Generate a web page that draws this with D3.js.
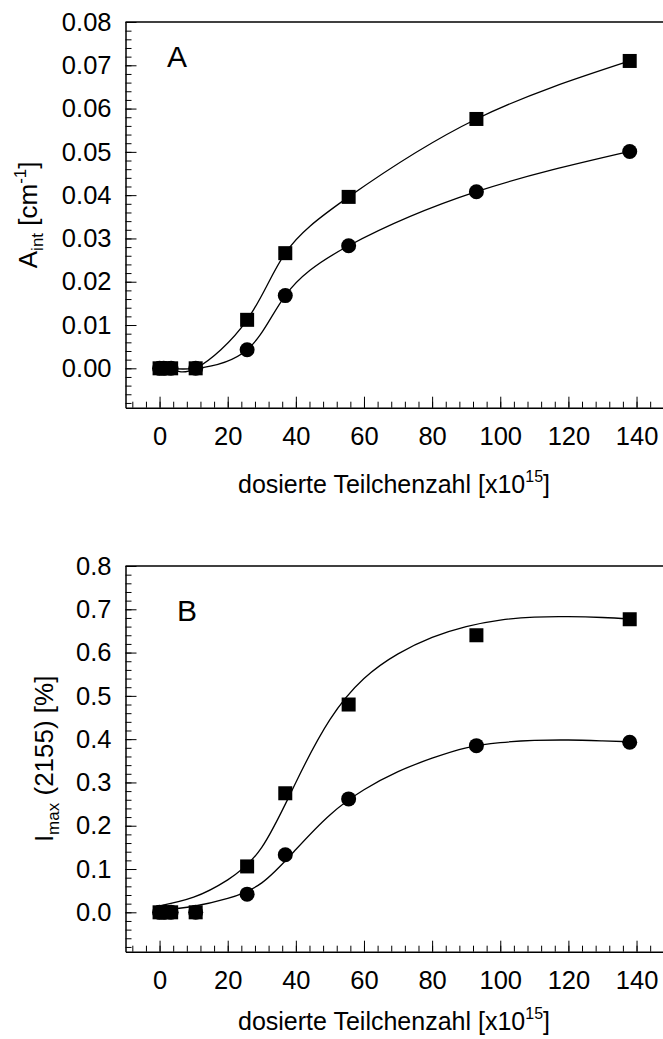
<!DOCTYPE html>
<html>
<head>
<meta charset="utf-8">
<script src="https://cdn.jsdelivr.net/npm/d3@7"></script>
<style>
  body { margin: 0; background: #fff; }
  svg { display: block; font-family: "Liberation Sans", Arial, sans-serif; }
</style>
</head>
<body>
<svg id="chart" width="663" height="1039"></svg>
<script>
// dose values (x) shared by both panels
const dose = [0, 1.2, 3.4, 10.6, 25.7, 36.9, 55.5, 93, 138];

// panel A: integrated absorbance
const aSquares = [0, 0, 0, 0, 0.0112, 0.0266, 0.0396, 0.0576, 0.0710];
const aCircles = [0, 0, 0, 0, 0.0043, 0.0168, 0.0283, 0.0408, 0.0501];

// panel B: maximum intensity
const bSquares = [0, 0, 0, 0, 0.106, 0.275, 0.480, 0.640, 0.677];
const bCircles = [0, 0, 0, 0, 0.042, 0.133, 0.262, 0.385, 0.393];

// panel B fitted curves
const fitX = [0, 10, 20, 30, 40, 50, 60, 70, 80, 90, 100, 110, 120, 130, 138];
const fitSquaresB = [0.015, 0.035, 0.075, 0.150, 0.300, 0.445, 0.540, 0.597, 0.635, 0.660, 0.675, 0.682, 0.683, 0.681, 0.678];
const fitCirclesB = [0.005, 0.014, 0.032, 0.068, 0.145, 0.225, 0.283, 0.325, 0.356, 0.380, 0.392, 0.397, 0.398, 0.396, 0.394];

const xTicks = [0, 20, 40, 60, 80, 100, 120, 140];
const yTicksA = [0, 0.01, 0.02, 0.03, 0.04, 0.05, 0.06, 0.07, 0.08];
const yTicksB = [0, 0.1, 0.2, 0.3, 0.4, 0.5, 0.6, 0.7, 0.8];

const svg = d3.select("#chart");
const left = 125.5, right = 670.6;

const x = d3.scaleLinear().domain([-10, 150]).range([left, right]);

function panel(opts) {
    const { top, bottom, yDomain, yTicks, yMinor, fmt, squares, circles, fits,
            letter, letterPos, yLabel, yLabelX, xTitleY } = opts;
    const y = d3.scaleLinear().domain(yDomain).range([bottom, top]);
    const g = svg.append("g");

    // top frame line
    g.append("line")
        .attr("x1", left).attr("x2", 663)
        .attr("y1", top).attr("y2", top)
        .attr("stroke", "#000").attr("stroke-width", 1.6);

    // minor ticks
    g.append("g")
        .attr("transform", `translate(${left},0)`)
        .call(d3.axisLeft(y).tickValues(yMinor).tickSize(-6).tickSizeOuter(0).tickFormat(""))
        .call(a => a.select(".domain").remove());
    g.append("g")
        .attr("transform", `translate(0,${bottom})`)
        .call(d3.axisBottom(x).tickValues(d3.range(-8, 150, 4)).tickSize(-6).tickSizeOuter(0).tickFormat(""))
        .call(a => a.select(".domain").remove());

    // y axis
    g.append("g")
        .attr("transform", `translate(${left},0)`)
        .call(d3.axisLeft(y).tickValues(yTicks).tickSize(-11).tickSizeOuter(0).tickPadding(14).tickFormat(fmt))
        .call(a => a.select(".domain").attr("stroke-width", 1.5))
        .call(a => a.selectAll("text").attr("font-size", 25.5).attr("fill", "#000"));

    // x axis
    g.append("g")
        .attr("transform", `translate(0,${bottom})`)
        .call(d3.axisBottom(x).tickValues(xTicks).tickSize(-11).tickSizeOuter(0).tickPadding(19).tickFormat(d3.format("d")))
        .call(a => a.select(".domain").attr("stroke-width", 1.5))
        .call(a => a.selectAll("text").attr("font-size", 25.5).attr("fill", "#000"));

    // curves
    fits.forEach(f => {
        g.append("path")
            .datum(f.xs.map((d, i) => [d, f.ys[i]]))
            .attr("fill", "none")
            .attr("stroke", "#000")
            .attr("stroke-width", 1.3)
            .attr("d", d3.line().x(d => x(d[0])).y(d => y(d[1])).curve(d3.curveNatural));
    });

    // markers
    g.append("g").selectAll("circle")
        .data(dose.map((d, i) => [d, circles[i]]))
        .join("circle")
        .attr("cx", d => x(d[0])).attr("cy", d => y(d[1]))
        .attr("r", 7.5).attr("fill", "#000");
    g.append("g").selectAll("rect")
        .data(dose.map((d, i) => [d, squares[i]]))
        .join("rect")
        .attr("x", d => x(d[0]) - 7).attr("y", d => y(d[1]) - 7)
        .attr("width", 14).attr("height", 14).attr("fill", "#000");

    // panel letter
    g.append("text")
        .attr("x", letterPos[0]).attr("y", letterPos[1])
        .attr("text-anchor", "middle")
        .attr("font-size", 30)
        .text(letter);

    // y label
    const yl = g.append("text")
        .attr("transform", `translate(${yLabelX},${(top + bottom) / 2}) rotate(-90)`)
        .attr("text-anchor", "middle")
        .attr("font-size", 26);
    yLabel(yl);

    // x label
    const xl = g.append("text")
        .attr("x", 394).attr("y", bottom + xTitleY)
        .attr("text-anchor", "middle")
        .attr("font-size", 25);
    xl.append("tspan").text("dosierte Teilchenzahl [x10");
    xl.append("tspan").attr("font-size", 16).attr("dy", -11).text("15");
    xl.append("tspan").attr("dy", 11).text("]");
}

panel({
    top: 22, bottom: 407.7,
    yDomain: [-0.0091, 0.08],
    yTicks: yTicksA,
    yMinor: d3.range(-0.008, 0.0801, 0.002),
    fmt: d3.format(".2f"),
    squares: aSquares, circles: aCircles,
    fits: [{ xs: dose, ys: aSquares }, { xs: dose, ys: aCircles }],
    letter: "A", letterPos: [177, 67],
    yLabelX: 37, xTitleY: 85,
    yLabel: t => {
        t.append("tspan").text("A");
        t.append("tspan").attr("font-size", 17).attr("dy", 6).text("int");
        t.append("tspan").attr("dy", -6).text(" [cm");
        t.append("tspan").attr("font-size", 17).attr("dy", -11).text("-1");
        t.append("tspan").attr("dy", 11).text("]");
    }
});

panel({
    top: 566, bottom: 951.7,
    yDomain: [-0.091, 0.8],
    yTicks: yTicksB,
    yMinor: d3.range(-0.08, 0.801, 0.02),
    fmt: d3.format(".1f"),
    squares: bSquares, circles: bCircles,
    fits: [{ xs: fitX, ys: fitSquaresB }, { xs: fitX, ys: fitCirclesB }],
    letter: "B", letterPos: [187, 621],
    yLabelX: 53, xTitleY: 78,
    yLabel: t => {
        t.append("tspan").text("I");
        t.append("tspan").attr("font-size", 17).attr("dy", 6).text("max");
        t.append("tspan").attr("dy", -6).text(" (2155) [%]");
    }
});
</script>
</body>
</html>
